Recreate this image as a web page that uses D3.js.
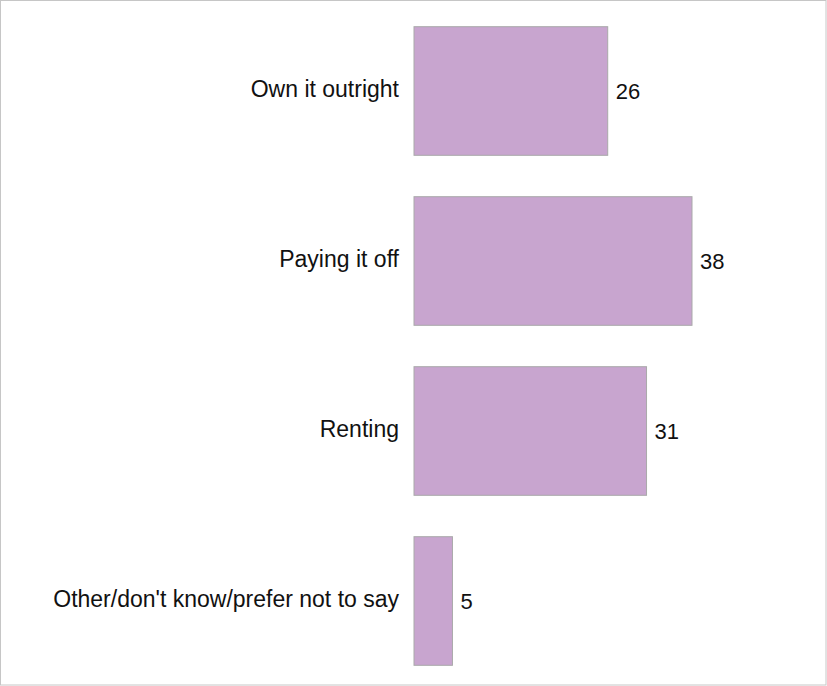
<!DOCTYPE html>
<html>
<head>
<meta charset="utf-8">
<script src="https://cdn.jsdelivr.net/npm/d3@7"></script>
<style>
    html, body { margin: 0; padding: 0; background: #fff; }
    svg { display: block; font-family: Arial, "Liberation Sans", sans-serif; }
</style>
</head>
<body>
<div id="chart"></div>
<script>
    // chart data (labels shown rounded)
    var categories = ['Own it outright', 'Paying it off', 'Renting', "Other/don't know/prefer not to say"];
    var values = [26.2, 37.6, 31.45, 5.2];

    var width = 827, height = 686;

    var svg = d3.select('#chart').append('svg')
        .attr('width', width)
        .attr('height', height);

    // frame round the whole picture
    svg.append('rect')
        .attr('x', 0.5).attr('y', 0.5)
        .attr('width', width - 1.5).attr('height', height - 1.5)
        .style('fill', '#fff')
        .style('stroke', '#c6c6c6');

    var data = categories.map(function (c, i) {
        return {item: c, count: values[i]};
    });

    // scales
    var x = d3.scaleLinear()
        .domain([0, d3.max(values)])
        .range([414, 692]);

    var y = d3.scaleBand()
        .domain(categories)
        .range([6, 686])
        .paddingInner(0.2435)
        .paddingOuter(0.12175);

    var fmt = d3.format('.0f');

    // bars
    svg.selectAll('.bar')
        .data(data)
        .enter().append('rect')
        .attr('class', 'bar')
        .attr('x', x(0))
        .attr('y', function (d) { return y(d.item); })
        .attr('width', function (d) { return x(d.count) - x(0); })
        .attr('height', y.bandwidth())
        .style('fill', '#c8a5cf')
        .style('stroke', '#a9a9a9')
        .style('stroke-width', 1);

    // category labels
    svg.selectAll('.cat')
        .data(data)
        .enter().append('text')
        .attr('class', 'cat')
        .attr('x', x(0) - 15)
        .attr('y', function (d) { return y(d.item) + y.bandwidth() / 2; })
        .attr('dy', '0.28em')
        .attr('text-anchor', 'end')
        .style('font-size', '23px')
        .style('fill', '#111')
        .text(function (d) { return d.item; });

    // value labels
    svg.selectAll('.val')
        .data(data)
        .enter().append('text')
        .attr('class', 'val')
        .attr('x', function (d) { return x(d.count) + 8; })
        .attr('y', function (d) { return y(d.item) + y.bandwidth() / 2; })
        .attr('dy', '0.38em')
        .style('font-size', '22px')
        .style('fill', '#111')
        .text(function (d) { return fmt(d.count); });
</script>
</body>
</html>
